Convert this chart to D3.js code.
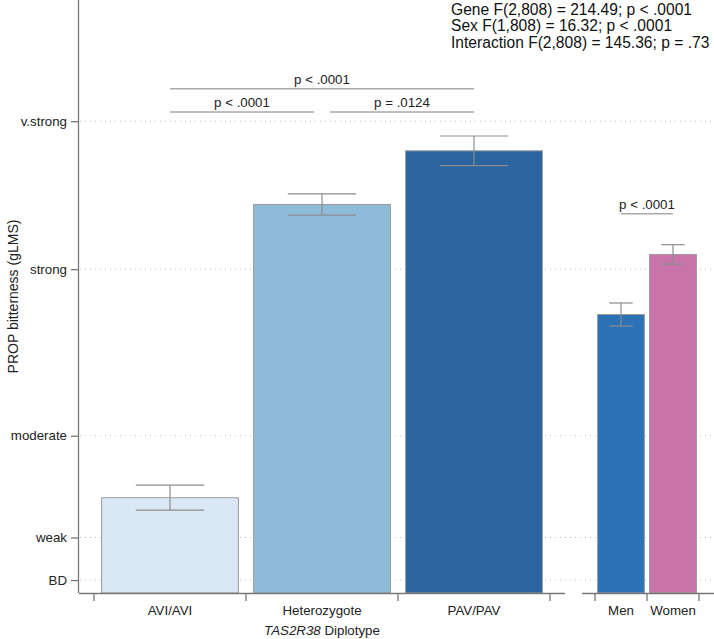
<!DOCTYPE html>
<html>
<head>
<meta charset="utf-8">
<script src="https://cdn.jsdelivr.net/npm/d3@7"></script>
<style>
  html, body { margin: 0; padding: 0; background: #fff; }
  svg { display: block; font-family: "Liberation Sans", Arial, Helvetica, sans-serif; }
</style>
</head>
<body>
<svg id="chart" width="714" height="639"></svg>
<script>
// ---- data ----
const genotypes = ["AVI/AVI", "Heterozygote", "PAV/PAV"];
const genotypeMeans = [10.3, 42.0, 47.8];
const genotypeSE = [1.35, 1.15, 1.6];
const genotypeColors = ["#dae7f4", "#8ebcd8", "#2a65a0"];

const sexes = ["Men", "Women"];
const sexMeans = [30.1, 36.6];
const sexSE = [1.25, 1.05];
const sexColors = ["#2c72b7", "#c873aa"];

const yTickValues = [1.4, 6, 17, 35, 51];
const yTickLabels = ["BD", "weak", "moderate", "strong", "v.strong"];

const genotypeBrackets = [
  { from: 0, to: 2, level: 54.5, label: "p < .0001", inset: 0 },
  { from: 0, to: 1, level: 52.0, label: "p < .0001", inset: 8 },
  { from: 1, to: 2, level: 52.0, label: "p = .0124", inset: 8 }
];
const sexBrackets = [
  { from: 0, to: 1, level: 41.0, label: "p < .0001", inset: 0 }
];

const statLines = [
  "Gene F(2,808) = 214.49; p < .0001",
  "Sex F(1,808) = 16.32; p < .0001",
  "Interaction F(2,808) = 145.36; p = .73"
];

// ---- layout ----
const W = 714, H = 639;
const axisX = 79, baseY = 593;
const svg = d3.select("#chart");

const y = d3.scaleLinear().domain([0, 64.1]).range([baseY, 0]);

const x1 = d3.scaleBand().domain(genotypes).range([94, 550])
  .paddingInner(0.1).paddingOuter(0.05);
const x2 = d3.scaleBand().domain(sexes).range([595, 699])
  .paddingInner(0.1).paddingOuter(0.05);

// gridlines (dotted)
svg.append("g").selectAll("line").data(yTickValues).join("line")
  .attr("x1", axisX + 1).attr("x2", W)
  .attr("y1", d => y(d)).attr("y2", d => y(d))
  .attr("stroke", "#bdbdbd").attr("stroke-width", 1)
  .attr("stroke-dasharray", "1,4");

// y axis
const yAxis = d3.axisLeft(y).tickValues(yTickValues)
  .tickFormat((d, i) => yTickLabels[i]).tickSize(8).tickPadding(4);
const gy = svg.append("g").attr("transform", `translate(${axisX},0)`).call(yAxis);
gy.select(".domain").attr("d", `M-0.5,0V${baseY}`).attr("stroke", "#777").attr("stroke-width", 1.3);
gy.selectAll(".tick line").attr("stroke", "#777").attr("stroke-width", 1.3);
gy.selectAll(".tick text").attr("font-size", 13.3).attr("fill", "#222")
  .attr("font-family", "Liberation Sans, Arial, sans-serif");

// y title
svg.append("text")
  .attr("transform", `translate(13,${baseY / 2}) rotate(-90)`)
  .attr("text-anchor", "middle").attr("dy", "0.35em")
  .attr("font-size", 14).attr("fill", "#222")
  .text("PROP bitterness (gLMS)");

// bars
function drawPanel(xs, cats, means, ses, colors) {
  const g = svg.append("g");
  g.selectAll("rect").data(cats).join("rect")
    .attr("x", d => xs(d)).attr("width", xs.bandwidth())
    .attr("y", (d, i) => y(means[i]))
    .attr("height", (d, i) => y(0) - y(means[i]))
    .attr("fill", (d, i) => colors[i])
    .attr("stroke", "#9a9a9a").attr("stroke-width", 1);
  const eg = g.append("g").attr("stroke", "#8c8c8c").attr("stroke-width", 1.2).attr("fill", "none");
  cats.forEach((c, i) => {
    const cx = xs(c) + xs.bandwidth() / 2;
    const hw = xs.bandwidth() / 4;
    const top = y(means[i] + ses[i]), bot = y(means[i] - ses[i]);
    eg.append("line").attr("x1", cx).attr("x2", cx).attr("y1", top).attr("y2", bot);
    eg.append("line").attr("x1", cx - hw).attr("x2", cx + hw).attr("y1", top).attr("y2", top);
    eg.append("line").attr("x1", cx - hw).attr("x2", cx + hw).attr("y1", bot).attr("y2", bot);
  });
}
drawPanel(x1, genotypes, genotypeMeans, genotypeSE, genotypeColors);
drawPanel(x2, sexes, sexMeans, sexSE, sexColors);

// x axes
function drawXAxis(xs, lineStart, lineEnd) {
  const g = svg.append("g");
  g.append("line").attr("x1", lineStart).attr("x2", lineEnd)
    .attr("y1", baseY + 0.5).attr("y2", baseY + 0.5)
    .attr("stroke", "#777").attr("stroke-width", 1.3);
  const cats = xs.domain();
  const bounds = cats.map(c => xs(c) - xs.step() * xs.paddingInner() / 2);
  bounds.push(xs(cats[cats.length - 1]) + xs.bandwidth() + xs.step() * xs.paddingInner() / 2);
  g.selectAll("line.tk").data(bounds).join("line").attr("class", "tk")
    .attr("x1", d => d).attr("x2", d => d)
    .attr("y1", baseY).attr("y2", baseY + 8)
    .attr("stroke", "#777").attr("stroke-width", 1.3);
  g.selectAll("text").data(cats).join("text")
    .attr("x", d => xs(d) + xs.bandwidth() / 2).attr("y", baseY + 22)
    .attr("text-anchor", "middle").attr("font-size", 13.3).attr("fill", "#222")
    .text(d => d);
}
drawXAxis(x1, axisX, 565);
drawXAxis(x2, 582, W);

// x title
const xt = svg.append("text")
  .attr("x", (x1.range()[0] + x1.range()[1]) / 2).attr("y", baseY + 42)
  .attr("text-anchor", "middle").attr("font-size", 13.3).attr("fill", "#222");
xt.append("tspan").attr("font-style", "italic").text("TAS2R38");
xt.append("tspan").text(" Diplotype");

// brackets
function drawBrackets(xs, cats, list) {
  const g = svg.append("g");
  list.forEach(b => {
    const xa = xs(cats[b.from]) + xs.bandwidth() / 2;
    const xb = xs(cats[b.to]) + xs.bandwidth() / 2;
    const a = xa + (b.from > 0 ? b.inset : 0);
    const e = xb - (b.to < cats.length - 1 ? b.inset : 0);
    const yy = y(b.level);
    g.append("line").attr("x1", a).attr("x2", e).attr("y1", yy).attr("y2", yy)
      .attr("stroke", "#aaa").attr("stroke-width", 1.5);
    g.append("text").attr("x", (a + e) / 2).attr("y", yy - 5)
      .attr("text-anchor", "middle").attr("font-size", 13.3).attr("fill", "#222")
      .text(b.label);
  });
}
drawBrackets(x1, genotypes, genotypeBrackets);
drawBrackets(x2, sexes, sexBrackets);

// stats text
svg.append("g").selectAll("text").data(statLines).join("text")
  .attr("x", 451).attr("y", (d, i) => 14.5 + i * 16.5)
  .attr("font-size", 15.6).attr("fill", "#111")
  .text(d => d);
</script>
</body>
</html>
